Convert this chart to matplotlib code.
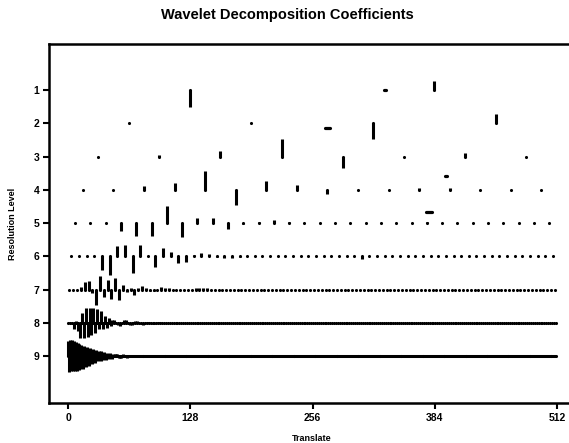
import numpy as np
import matplotlib
matplotlib.use("Agg")
import matplotlib.pyplot as plt

plt.rcParams['font.family'] = ['Liberation Sans', 'DejaVu Sans']

# coefficients per resolution level, in level units (positive = up)
lev1 = [-0.50, 0.26]
lev2 = [0.0, 0.0, -0.47, 0.28]
lev3 = [0.0, 0.05, 0.18, 0.52, -0.33, 0.0, 0.10, 0.0]
lev4 = [0.0, 0.0, 0.10, 0.20, 0.55, -0.47, 0.25, 0.13,
        -0.12, 0.0, 0.0, 0.04, 0.04, 0.0, 0.0, 0.0]
lev5 = [0.0, 0.0, 0.0, -0.25, -0.40, -0.38, 0.50, -0.43,
        0.15, 0.15, -0.18, -0.03, 0.03, 0.10, 0.03, 0.0,
        0.0, 0.0, 0.0, 0.0, 0.0, 0.0, 0.0, 0.02,
        0.0, 0.0, 0.0, 0.0, 0.0, 0.0, 0.0, 0.0]
lev6 = [0.0, 0.0, 0.0, 0.0, -0.42, -0.55, 0.30, 0.35,
        -0.50, 0.33, 0.0, -0.33, 0.24, 0.12, -0.20, -0.17,
        0.05, 0.10, 0.07, -0.02, -0.05, -0.06, -0.03, 0.0]
lev6 += [0.0] * 14 + [-0.08]
lev6 += [0.0] * (64 - len(lev6))
lev7 = [0.0, 0.0, 0.0, 0.07, 0.23, 0.25, -0.10, -0.45,
        0.40, -0.22, 0.28, -0.27, 0.36, -0.30, 0.13, -0.08,
        0.06, -0.17, 0.05, 0.12, 0.05, -0.05, -0.05, -0.02,
        0.07, 0.05, 0.05, 0.0, -0.02, 0.0, 0.0, 0.0,
        0.0, 0.04, 0.04, 0.04, 0.04]
lev7 += [0.0] * (128 - len(lev7))
lev8 = [0.0, 0.03, -0.03, -0.20, 0.05, -0.25, -0.45, 0.30,
        -0.46, 0.44, -0.42, 0.45, -0.38, 0.44, -0.30, 0.42,
        -0.20, 0.35, -0.18, 0.20, -0.15, 0.15, -0.10,
        0.08, 0.10, 0.0, -0.08, -0.10, 0.0, 0.08, 0.09, 0.0,
        -0.07, -0.08, 0.0, 0.06, 0.06, 0.0,
        -0.04, -0.05, 0.0, 0.04, 0.04, 0.0, -0.03, -0.03, 0.0, 0.02, 0.02]
lev8 += [0.0] * (256 - len(lev8))
lev9 = [0.45, -0.47, 0.48, -0.45, 0.47, -0.46, 0.44, -0.45, 0.42, -0.44,
        0.40, -0.42, 0.36,
        -0.40, 0.33, -0.05, -0.38, 0.30, 0.0, -0.33, 0.27, 0.02, -0.29,
        0.24, 0.0, -0.25, 0.21, 0.0, -0.20, 0.18, 0.0, -0.16, 0.15, 0.0,
        -0.15, 0.14, 0.02, -0.13, 0.12, 0.0, -0.11, 0.10, 0.0, -0.10,
        0.09, 0.0, -0.08, 0.07, 0.0,
        0.05, 0.07, 0.05, 0.0, -0.05, -0.07, -0.05, 0.0,
        0.04, 0.05, 0.04, 0.0, -0.04, -0.05, -0.04, 0.0,
        0.03, 0.03, 0.02, 0.0, -0.02, -0.03]
lev9 += [0.0] * (512 - len(lev9))

levels = [lev1, lev2, lev3, lev4, lev5, lev6, lev7, lev8, lev9]

# odd marks on the scanned page (translate, level)
stray_x = [331.7, 271.8, 395.9, 378.1]
stray_y = [1.0, 2.14, 3.58, 4.66]
stray_w = [2.5, 5.0, 2.5, 6.5]

xticks = [0, 128, 256, 384, 512]

fig = plt.figure(figsize=(5.69, 4.43), dpi=100)
ax = fig.add_axes([49 / 569, 40 / 443, 526 / 569, 359 / 443])

for j, coefs in enumerate(levels):
    lev = j + 1
    c = np.array(coefs)
    step = 512 / len(c)
    x = step * np.arange(len(c)) + (step - 1) / 2
    ax.vlines(x, lev, lev - c, color="black", lw=2.2)
    ax.scatter(x, np.full(len(c), lev), s=5.0, color="black", lw=0)

for sx, sy, sw in zip(stray_x, stray_y, stray_w):
    ax.plot([sx - sw / 2, sx + sw / 2], [sy, sy], color="black", lw=2.3,
            solid_capstyle="round")

ax.set_xlim(-19.9, 530.6)
ax.set_ylim(10.41, -0.383)
ax.set_xticks(xticks)
ax.set_yticks(range(1, 10))
for lab in ax.get_xticklabels() + ax.get_yticklabels():
    lab.set_fontweight("bold")
ax.tick_params(direction="out", length=4, width=1.5, labelsize=7.5, pad=3)
for side in ["left", "bottom", "top"]:
    ax.spines[side].set_linewidth(1.8)
ax.spines["right"].set_visible(False)

ax.set_xlabel("Translate", fontsize=6.5, fontweight="bold", labelpad=8)
ax.set_ylabel("Resolution Level", fontsize=6.5, fontweight="bold", labelpad=12)
fig.text(0.505, 1 - 15 / 443, "Wavelet Decomposition Coefficients",
         ha="center", va="center", fontsize=10.5, fontweight="bold")

fig.savefig("out.png", dpi=100)
